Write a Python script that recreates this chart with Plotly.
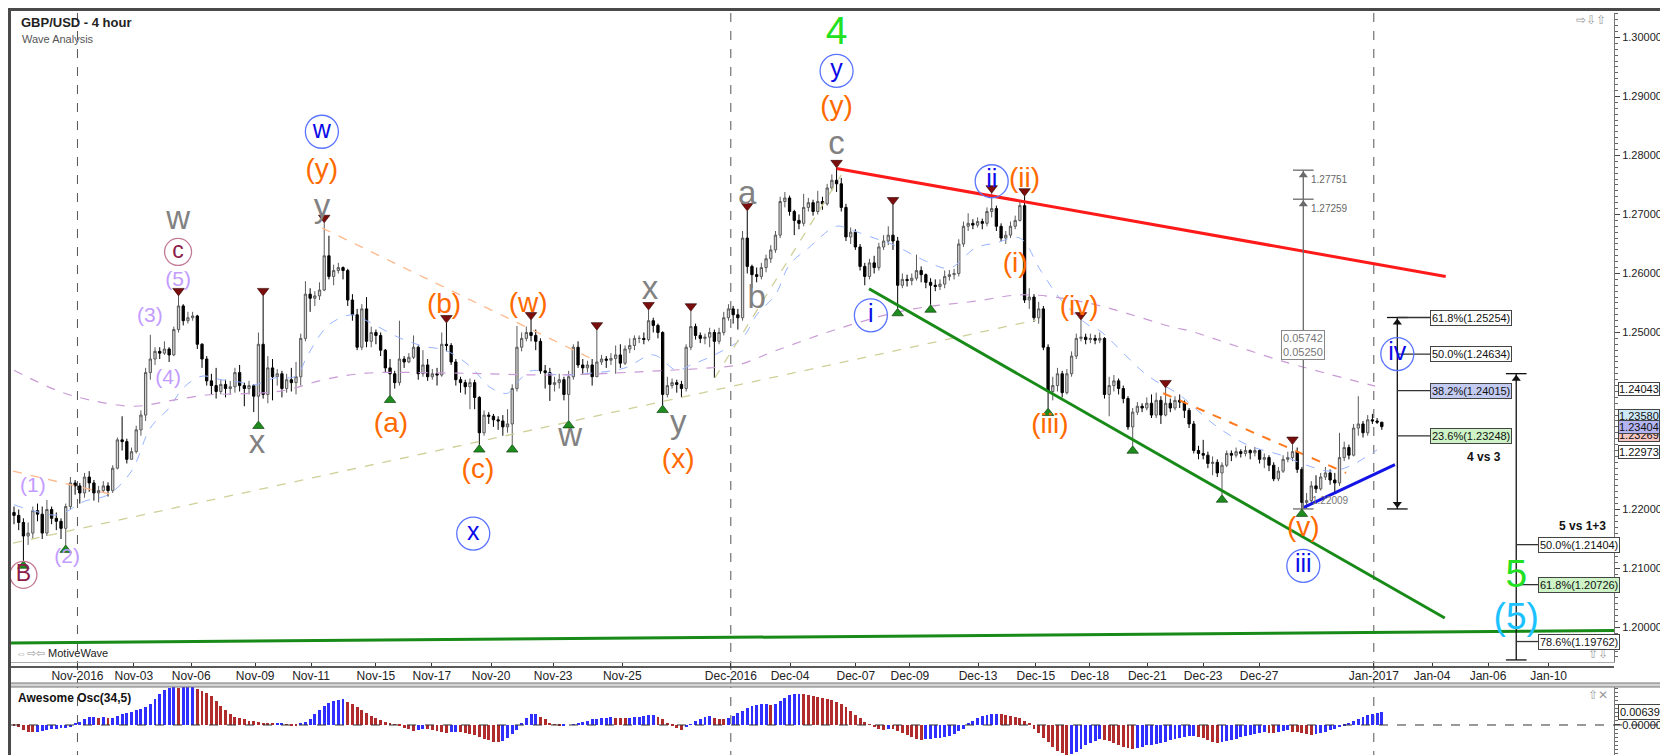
import plotly.graph_objects as go

# GBP/USD 4-hour bars, Nov 1 2016 -> Jan 2 2017
first_open = 1.2195
close = [
    1.2190, 1.2178, 1.2155, 1.2160, 1.2198, 1.2192, 1.2160, 1.2200, 1.2185, 1.2180,
    1.2168, 1.2205, 1.2245, 1.2240, 1.2228, 1.2255, 1.2245, 1.2228, 1.2232, 1.2240,
    1.2232, 1.2270, 1.2318, 1.2315, 1.2285, 1.2298, 1.2335, 1.2360, 1.2432, 1.2455,
    1.2468, 1.2465, 1.2472, 1.2462, 1.2505, 1.2545, 1.2520, 1.2525, 1.2528, 1.2480,
    1.2455, 1.2418, 1.2410, 1.2400, 1.2412, 1.2405, 1.2408, 1.2432, 1.2410, 1.2405,
    1.2410, 1.2392, 1.2480, 1.2395, 1.2440, 1.2425, 1.2430, 1.2405, 1.2420, 1.2415,
    1.2425, 1.2490, 1.2565, 1.2558, 1.2562, 1.2572, 1.2630, 1.2595, 1.2605, 1.2610,
    1.2605, 1.2555, 1.2530, 1.2475, 1.2540, 1.2485, 1.2500, 1.2495, 1.2470, 1.2440,
    1.2430, 1.2415, 1.2455, 1.2450, 1.2458, 1.2475, 1.2430, 1.2445, 1.2425, 1.2430,
    1.2428, 1.2480, 1.2478, 1.2450, 1.2420, 1.2415, 1.2408, 1.2415, 1.2390, 1.2330,
    1.2360, 1.2358, 1.2352, 1.2350, 1.2340, 1.2345, 1.2405, 1.2475, 1.2490, 1.2500,
    1.2495, 1.2485, 1.2435, 1.2432, 1.2412, 1.2415, 1.2420, 1.2395, 1.2425, 1.2475,
    1.2445, 1.2440, 1.2445, 1.2425, 1.2450, 1.2455, 1.2453, 1.2456, 1.2462, 1.2448,
    1.2472, 1.2478, 1.2490, 1.2490, 1.2488, 1.2520, 1.2512, 1.2500, 1.2395, 1.2410,
    1.2415, 1.2412, 1.2405, 1.2475, 1.2510, 1.2495, 1.2490, 1.2492, 1.2500, 1.2485,
    1.2500, 1.2525, 1.2540, 1.2530, 1.2525, 1.2660, 1.2612, 1.2598, 1.2595, 1.2610,
    1.2625, 1.2640, 1.2665, 1.2722, 1.2728, 1.2705, 1.2690, 1.2685, 1.2712, 1.2720,
    1.2705, 1.2722, 1.2718, 1.2745, 1.2758, 1.2752, 1.2712, 1.2662, 1.2670, 1.2645,
    1.2612, 1.2595, 1.2618, 1.2610, 1.2645, 1.2655, 1.2665, 1.2655, 1.2580, 1.2590,
    1.2588, 1.2592, 1.2605, 1.2598, 1.2585, 1.2580, 1.2578, 1.2582, 1.2595, 1.2598,
    1.2600, 1.2650, 1.2680, 1.2685, 1.2682, 1.2688, 1.2685, 1.2705, 1.2710, 1.2680,
    1.2660, 1.2665, 1.2680, 1.2690, 1.2715, 1.2555, 1.2560, 1.2525, 1.2540, 1.2475,
    1.2400, 1.2410, 1.2430, 1.2398, 1.2430, 1.2460, 1.2490, 1.2492, 1.2488, 1.2490,
    1.2487, 1.2490, 1.2395, 1.2410, 1.2418, 1.2405, 1.2388, 1.2340, 1.2365, 1.2375,
    1.2372, 1.2380, 1.2360, 1.2385, 1.2360, 1.2380, 1.2372, 1.2385, 1.2382, 1.2368,
    1.2345, 1.2300, 1.2295, 1.2292, 1.2278, 1.2280, 1.2262, 1.2275, 1.2295, 1.2292,
    1.2298, 1.2295, 1.2300, 1.2296, 1.2300, 1.2285, 1.2288, 1.2275, 1.2252, 1.2265,
    1.2285, 1.2288, 1.2298, 1.2268, 1.2212, 1.2215, 1.2240, 1.2235, 1.2255, 1.2262,
    1.2250, 1.2245, 1.2288, 1.2305, 1.2292, 1.2338, 1.2345, 1.2330, 1.2352, 1.2350,
    1.2348, 1.23404,
]
high = [
    1.2205, 1.2200, 1.2185, 1.2178, 1.2205, 1.2210, 1.2205, 1.2216, 1.2205, 1.2195,
    1.2185, 1.2210, 1.2255, 1.2250, 1.2245, 1.2262, 1.2265, 1.2250, 1.2240, 1.2248,
    1.2246, 1.2275, 1.2322, 1.2358, 1.2320, 1.2305, 1.2342, 1.2368, 1.2440, 1.2496,
    1.2475, 1.2475, 1.2485, 1.2475, 1.2510, 1.2562, 1.2548, 1.2535, 1.2535, 1.2530,
    1.2482, 1.2460, 1.2430, 1.2440, 1.2420, 1.2420, 1.2418, 1.2440, 1.2445, 1.2415,
    1.2418, 1.2412, 1.2500, 1.2562, 1.2460, 1.2455, 1.2438, 1.2435, 1.2430, 1.2440,
    1.2450, 1.2498, 1.2587, 1.2575, 1.2570, 1.2585, 1.2686, 1.2664, 1.2615, 1.2618,
    1.2612, 1.2608, 1.2565, 1.2540, 1.2548, 1.2560, 1.2510, 1.2505, 1.2500, 1.2472,
    1.2455, 1.2435, 1.2520, 1.2460, 1.2465, 1.2495, 1.2478, 1.2470, 1.2455, 1.2438,
    1.2440, 1.2500, 1.2516, 1.2482, 1.2455, 1.2425, 1.2420, 1.2422, 1.2420, 1.2392,
    1.2368, 1.2365, 1.2362, 1.2358, 1.2360, 1.2370, 1.2412, 1.2511, 1.2500, 1.2510,
    1.2521, 1.2505, 1.2490, 1.2445, 1.2440, 1.2425, 1.2430, 1.2425, 1.2435, 1.2480,
    1.2485, 1.2455, 1.2452, 1.2455, 1.2504, 1.2462, 1.2460, 1.2465, 1.2478, 1.2480,
    1.2478, 1.2490, 1.2495, 1.2495, 1.2500, 1.2538, 1.2525, 1.2515, 1.2502, 1.2425,
    1.2422, 1.2420, 1.2418, 1.2480, 1.2536, 1.2515, 1.2500, 1.2498, 1.2508, 1.2505,
    1.2508, 1.2535, 1.2548, 1.2545, 1.2540, 1.2672, 1.2706, 1.2615, 1.2610, 1.2618,
    1.2632, 1.2648, 1.2672, 1.2730, 1.2738, 1.2732, 1.2708, 1.2700, 1.2735, 1.2728,
    1.2725, 1.2740, 1.2730, 1.2752, 1.2768, 1.2779, 1.2762, 1.2718, 1.2678, 1.2675,
    1.2650, 1.2618, 1.2625, 1.2630, 1.2652, 1.2665, 1.2680, 1.2716, 1.2662, 1.2600,
    1.2598, 1.2600, 1.2632, 1.2612, 1.2600, 1.2592, 1.2590, 1.2590, 1.2605, 1.2606,
    1.2608, 1.2658, 1.2688, 1.2702, 1.2692, 1.2695, 1.2693, 1.2712, 1.2736, 1.2715,
    1.2685, 1.2672, 1.2688, 1.2698, 1.2722, 1.2731, 1.2575, 1.2565, 1.2552, 1.2545,
    1.2480, 1.2425, 1.2440, 1.2435, 1.2438, 1.2468, 1.2498, 1.2521, 1.2498, 1.2498,
    1.2496, 1.2500, 1.2492, 1.2425, 1.2428, 1.2422, 1.2410, 1.2392, 1.2372, 1.2382,
    1.2380, 1.2390, 1.2395, 1.2398, 1.2392, 1.2406, 1.2388, 1.2392, 1.2395, 1.2385,
    1.2372, 1.2350, 1.2308, 1.2318, 1.2298, 1.2290, 1.2285, 1.2280, 1.2300, 1.2300,
    1.2305, 1.2302, 1.2308, 1.2302, 1.2306, 1.2302, 1.2295, 1.2292, 1.2280, 1.2272,
    1.2292, 1.2298, 1.2310, 1.2305, 1.2272, 1.2228, 1.2248, 1.2258, 1.2262, 1.2272,
    1.2268, 1.2262, 1.2330, 1.2315, 1.2310, 1.2345, 1.2392, 1.2350, 1.2360, 1.2362,
    1.2355, 1.2345,
]
low = [
    1.2175, 1.2165, 1.2113, 1.2140, 1.2150, 1.2180, 1.2150, 1.2155, 1.2175, 1.2165,
    1.2150, 1.2140, 1.2200, 1.2225, 1.2210, 1.2220, 1.2230, 1.2215, 1.2212, 1.2228,
    1.2222, 1.2228, 1.2268, 1.2300, 1.2278, 1.2285, 1.2295, 1.2325, 1.2350, 1.2420,
    1.2445, 1.2455, 1.2462, 1.2450, 1.2460, 1.2500, 1.2512, 1.2515, 1.2520, 1.2472,
    1.2440, 1.2410, 1.2395, 1.2388, 1.2395, 1.2390, 1.2395, 1.2398, 1.2400, 1.2375,
    1.2395, 1.2365, 1.2350, 1.2388, 1.2380, 1.2385, 1.2410, 1.2390, 1.2398, 1.2400,
    1.2395, 1.2410, 1.2485, 1.2535, 1.2545, 1.2555, 1.2570, 1.2590, 1.2580, 1.2600,
    1.2590, 1.2545, 1.2520, 1.2470, 1.2470, 1.2475, 1.2475, 1.2480, 1.2460, 1.2432,
    1.2394, 1.2405, 1.2410, 1.2440, 1.2448, 1.2455, 1.2420, 1.2425, 1.2418, 1.2420,
    1.2410, 1.2425, 1.2468, 1.2445, 1.2410, 1.2398, 1.2395, 1.2370, 1.2370, 1.2310,
    1.2325, 1.2345, 1.2340, 1.2335, 1.2325, 1.2330, 1.2310, 1.2400, 1.2468, 1.2485,
    1.2485, 1.2470, 1.2430, 1.2405, 1.2384, 1.2400, 1.2405, 1.2385, 1.2351, 1.2420,
    1.2440, 1.2430, 1.2432, 1.2410, 1.2425, 1.2445, 1.2440, 1.2445, 1.2430, 1.2440,
    1.2445, 1.2465, 1.2470, 1.2482, 1.2480, 1.2485, 1.2500, 1.2490, 1.2377, 1.2390,
    1.2405, 1.2398, 1.2390, 1.2400, 1.2470, 1.2488, 1.2482, 1.2480, 1.2475, 1.2423,
    1.2480, 1.2495, 1.2520, 1.2515, 1.2505, 1.2520, 1.2600, 1.2575, 1.2585, 1.2590,
    1.2602, 1.2618, 1.2635, 1.2660, 1.2712, 1.2698, 1.2665, 1.2675, 1.2680, 1.2705,
    1.2698, 1.2700, 1.2708, 1.2715, 1.2740, 1.2738, 1.2705, 1.2655, 1.2650, 1.2640,
    1.2605, 1.2580, 1.2590, 1.2600, 1.2605, 1.2640, 1.2648, 1.2640, 1.2541, 1.2575,
    1.2578, 1.2580, 1.2588, 1.2585, 1.2575, 1.2547, 1.2570, 1.2572, 1.2575, 1.2588,
    1.2590, 1.2595, 1.2645, 1.2672, 1.2675, 1.2678, 1.2675, 1.2680, 1.2695, 1.2672,
    1.2655, 1.2650, 1.2660, 1.2675, 1.2688, 1.2550, 1.2540, 1.2518, 1.2515, 1.2470,
    1.2372, 1.2385, 1.2400, 1.2390, 1.2395, 1.2425, 1.2455, 1.2485, 1.2480, 1.2482,
    1.2480, 1.2482, 1.2388, 1.2358, 1.2400, 1.2395, 1.2380, 1.2335, 1.2308, 1.2360,
    1.2365, 1.2368, 1.2355, 1.2355, 1.2345, 1.2358, 1.2365, 1.2368, 1.2372, 1.2355,
    1.2338, 1.2295, 1.2285, 1.2285, 1.2270, 1.2258, 1.2255, 1.2225, 1.2272, 1.2282,
    1.2288, 1.2288, 1.2290, 1.2285, 1.2290, 1.2278, 1.2270, 1.2265, 1.2248, 1.2248,
    1.2262, 1.2280, 1.2282, 1.2262, 1.2201, 1.2201, 1.2210, 1.2228, 1.2232, 1.2250,
    1.2242, 1.2228, 1.2240, 1.2282, 1.2285, 1.2290, 1.2325, 1.2322, 1.2325, 1.2345,
    1.2345, 1.2335,
]
# Awesome Oscillator (34,5), one value per bar
ao = [
    -0.0003, -0.0008, -0.0025, -0.0033, -0.0034, -0.0032, -0.0028, -0.0025, -0.0022, -0.0018,
    -0.0015, -0.0013, -0.0010, 0.0008, 0.0015, 0.0028, 0.0040, 0.0041, 0.0036, 0.0037,
    0.0033, 0.0036, 0.0045, 0.0052, 0.0058, 0.0065, 0.0072, 0.0080, 0.0088, 0.0105,
    0.0128, 0.0150, 0.0170, 0.0180, 0.0185, 0.0183, 0.0185, 0.0186, 0.0187, 0.0178,
    0.0168, 0.0155, 0.0140, 0.0118, 0.0095, 0.0072, 0.0052, 0.0040, 0.0033, 0.0028,
    0.0022, 0.0018, 0.0014, 0.0008, 0.0006, 0.0005, 0.0006, 0.0008, 0.0002, -0.0003,
    -0.0005, 0.0005, 0.0015, 0.0030, 0.0052, 0.0075, 0.0095, 0.0108, 0.0118, 0.0124,
    0.0126, 0.0115, 0.0102, 0.0088, 0.0072, 0.0058, 0.0045, 0.0035, 0.0025, 0.0016,
    0.0008, 0.0002, -0.0006, -0.0014, -0.0022, -0.0028, -0.0024, -0.0020, -0.0022, -0.0026,
    -0.0030, -0.0036, -0.0038, -0.0036, -0.0035, -0.0036, -0.0038, -0.0042, -0.0050, -0.0060,
    -0.0068, -0.0076, -0.0082, -0.0086, -0.0080, -0.0065, -0.0045, -0.0025, 0.0010, 0.0032,
    0.0052, 0.0053, 0.0040, 0.0028, 0.0012, 0.0002, -0.0003, -0.0002, 0.0000, 0.0004,
    0.0010, 0.0016, 0.0022, 0.0028, 0.0030, 0.0034, 0.0036, 0.0038, 0.0036, 0.0035,
    0.0034, 0.0036, 0.0037, 0.0038, 0.0042, 0.0048, 0.0050, 0.0040, 0.0028, 0.0012,
    -0.0004, -0.0016, -0.0026, -0.0010, 0.0002, 0.0018, 0.0030, 0.0038, 0.0044, 0.0036,
    0.0030, 0.0028, 0.0034, 0.0042, 0.0058, 0.0070, 0.0082, 0.0092, 0.0098, 0.0102,
    0.0104, 0.0100, 0.0104, 0.0118, 0.0135, 0.0148, 0.0152, 0.0153, 0.0150, 0.0146,
    0.0142, 0.0138, 0.0134, 0.0128, 0.0122, 0.0114, 0.0104, 0.0088, 0.0070, 0.0050,
    0.0032, 0.0015, 0.0003, -0.0010, -0.0018, -0.0026, -0.0018, -0.0022, -0.0028, -0.0040,
    -0.0050, -0.0060, -0.0068, -0.0072, -0.0070, -0.0068, -0.0066, -0.0064, -0.0060, -0.0052,
    -0.0042, -0.0030, -0.0018, 0.0008, 0.0018, 0.0032, 0.0042, 0.0048, 0.0052, 0.0054,
    0.0052, 0.0050, 0.0046, 0.0040, 0.0033, 0.0020, 0.0008, -0.0020, -0.0040, -0.0062,
    -0.0085, -0.0108, -0.0126, -0.0140, -0.0148, -0.0142, -0.0132, -0.0118, -0.0100, -0.0088,
    -0.0078, -0.0068, -0.0072, -0.0080, -0.0090, -0.0098, -0.0106, -0.0114, -0.0116, -0.0112,
    -0.0108, -0.0100, -0.0096, -0.0092, -0.0088, -0.0082, -0.0076, -0.0070, -0.0066, -0.0060,
    -0.0056, -0.0052, -0.0058, -0.0066, -0.0074, -0.0082, -0.0090, -0.0086, -0.0080, -0.0074,
    -0.0068, -0.0060, -0.0054, -0.0048, -0.0044, -0.0040, -0.0036, -0.0038, -0.0040, -0.0034,
    -0.0030, -0.0026, -0.0032, -0.0036, -0.0040, -0.0045, -0.0050, -0.0046, -0.0040, -0.0034,
    -0.0026, -0.0018, -0.0010, -0.0004, 0.0008, 0.0018, 0.0030, 0.0040, 0.0048, 0.0056,
    0.0060, 0.00639,
]

# moving averages, sampled along the chart (bar index, price)
fast_ma_bar = [0, 4.5, 9.4, 15, 20, 25, 29, 33, 36, 40, 44, 48, 51, 55.5, 60, 62.5, 67, 72, 75, 82,
               87, 92, 97, 101.5, 105, 106.6, 110, 115.7, 122.8, 130, 136, 141, 144, 149, 155, 158,
               162, 165, 169, 175, 178, 183, 187, 194, 199, 204.5, 209, 214, 218.5, 223, 228.5, 231,
               241, 248, 255.5, 262.5, 269.6, 275, 280, 284, 290]
fast_ma = [1.2208, 1.2197, 1.2191, 1.2214, 1.2225, 1.2265, 1.2338, 1.2372, 1.2406, 1.2426,
           1.2420, 1.2416, 1.2411, 1.2423, 1.2426, 1.2462, 1.2513, 1.2530, 1.2520, 1.2491,
           1.2477, 1.2469, 1.2443, 1.2406, 1.2397, 1.2411, 1.2435, 1.2428, 1.2431, 1.2440,
           1.2462, 1.2436, 1.2445, 1.2462, 1.2491, 1.2530, 1.2564, 1.2615, 1.2643, 1.2680,
           1.2674, 1.2660, 1.2649, 1.2621, 1.2609, 1.2643, 1.2652, 1.2660, 1.2604, 1.2553,
           1.2513, 1.2503, 1.2428, 1.2394, 1.2343, 1.2309, 1.2292, 1.2275, 1.2265, 1.2273,
           1.2301]
slow_ma_bar = [0, 9.4, 16.5, 25.7, 33, 41, 48, 57, 66, 75, 94.5, 115.7, 137, 148, 154, 162, 176,
               190, 204.5, 215, 228.5, 247, 250, 269.6, 289.6]
slow_ma = [1.2436, 1.2401, 1.2385, 1.2375, 1.2384, 1.2394, 1.2396, 1.2401, 1.2420, 1.2431,
           1.2431, 1.2428, 1.2435, 1.2440, 1.2445, 1.2469, 1.2508, 1.2538, 1.2553, 1.2564,
           1.2550, 1.2508, 1.2503, 1.2452, 1.2409]

tick_labels = ['Nov-2016', 'Nov-03', 'Nov-06', 'Nov-09', 'Nov-11', 'Nov-15', 'Nov-17', 'Nov-20',
               'Nov-23', 'Nov-25', 'Dec-2016', 'Dec-04', 'Dec-07', 'Dec-09', 'Dec-13', 'Dec-15',
               'Dec-18', 'Dec-21', 'Dec-23', 'Dec-27', 'Jan-2017', 'Jan-04', 'Jan-06', 'Jan-10']
tick_bars = [13.5, 25.5, 37.7, 51.3, 63.2, 77.0, 88.9, 101.5, 114.7, 129.4, 152.5, 165.1, 179.1,
             190.6, 205.1, 217.4, 228.9, 241.1, 253.0, 264.9, 289.3, 301.7, 313.6, 326.5]
month_bars = [13.5, 152.5, 289.3]

# swing markers
top_bars = [35, 53, 66, 92, 110, 124, 135, 144, 156, 175, 187, 208, 215, 227, 245, 272]
bottom_bars = [2, 11, 52, 80, 99, 106, 118, 138, 188, 195, 220, 238, 257, 274]

# wave labels: text, bar, pivot bar, pivot side, offset in px (up +), style
wave_labels = [
    ("B", 2, 2, "l", -14, "maroon_c"), ("(1)", 4, 4, "h", 20, "lav"), ("(2)", 11.3, 11, "l", -13, "lav"),
    ("(3)", 28.9, 29, "h", 18, "lav"), ("(4)", 32.8, 33, "l", -17, "lav"),
    ("(5)", 34.9, 35, "h", 15, "lav"), ("c", 34.9, 35, "h", 44, "maroon_c"), ("w", 34.9, 35, "h", 75, "gray"),
    ("x", 51.7, 52, "l", -24, "gray"),
    ("y", 65.5, 66, "h", 14, "gray"), ("(y)", 65.5, 66, "h", 52, "orange"), ("w", 65.5, 66, "h", 91, "blue_c"),
    ("(a)", 80.2, 80, "l", -30, "orange"), ("(b)", 91.5, 92, "h", 17, "orange"),
    ("(c)", 98.7, 99, "l", -26, "orange"), ("x", 97.7, 99, "l", -89, "blue_c"),
    ("(w)", 109.4, 110, "h", 15, "orange"), ("w", 118.3, 118, "l", -17, "gray"),
    ("x", 135.3, 135, "h", 19, "gray"), ("y", 141.3, 138, "l", -20, "gray"), ("(x)", 141.3, 138, "l", -56, "orange"),
    ("a", 156, 156, "h", 15, "gray"), ("b", 158, 157, "l", -12, "gray"),
    ("c", 175, 175, "h", 22, "gray"), ("(y)", 175, 175, "h", 60, "orange"), ("y", 175, 175, "h", 97, "blue_c"),
    ("4", 175, 175, "h", 134, "green"),
    ("i", 182.3, 181, "l", -30, "blue_c"), ("ii", 208, 208, "h", 12, "blue_c"),
    ("(ii)", 215, 215, "h", 16, "orange"), ("(i)", 213, 215, "l", 38, "orange"),
    ("(iii)", 220.4, 220, "l", -18, "orange"), ("(iv)", 226.6, 227, "h", 12, "orange"),
    ("(v)", 274.3, 274, "l", -20, "orange"), ("iii", 274.3, 274, "l", -57, "blue_c"),
]

# trend lines (bar index, price)
red_line = ([175.0, 304.6], [1.2778, 1.2595])
green_channel = ([181.9, 304.4], [1.2574, 1.2016])
green_base = ([-1.3, 340.4], [1.19737, 1.19949])
blue_line = ([274.3, 293.8], [1.2203, 1.2276])
orange_dash = ([244.5, 283.4], [1.2397, 1.2262])
peach_dash = ([65.6, 123.0], [1.2677, 1.2455])
peach_dash_left = ([-0.2, 22.1], [1.2265, 1.2223])
tan_dash = ([-0.2, 217.4], [1.2143, 1.2521])
tan_dash_bc = ([149.1, 176.0], [1.2423, 1.2767])

# measuring tools
measure_bar, measure_caps, measure_bottom = 274.3, [1.27751, 1.27259], 1.22009
fib1_bar, fib1_top, fib1_bottom = 294.3, 1.25254, 1.22009
fib1_levels = [(61.8, 1.25254, 'white'), (50.0, 1.24634, 'white'),
               (38.2, 1.24015, '#c3cbf2'), (23.6, 1.23248, '#cdf3c6')]
fib2_bar, fib2_top, fib2_bottom = 319.6, 1.24302, 1.1945
fib2_levels = [(50.0, 1.21404, 'white'), (61.8, 1.20726, '#cdf3c6'), (78.6, 1.19762, 'white')]

axis_marks = [(1.24043, 'white'), (1.22973, 'white'), (1.23580, '#cfe8f8'),
              (1.23269, '#f5c6c2'), (1.23404, '#b4b4f2')]

# ---- geometry
W, H, ML, MR = 1668, 755, 3, 62
Y_LO, Y_HI = 1.19415, 1.30415
X_LO, X_HI = -0.64, 340.4
MAIN_DOM = [(H - 654) / H, (H - 5) / H]
OSC_DOM = [(H - 752) / H, (H - 679) / H]
OSC_RANGE = [-0.0172, 0.01866]
ppp = (Y_HI - Y_LO) / (H * (MAIN_DOM[1] - MAIN_DOM[0]))


def px_x(px):
    return (px - ML) / (W - ML - MR)


def px_y(py):
    return (H - py) / H


opens = [first_open] + close[:-1]
high = [max(h, o, c) for h, o, c in zip(high, opens, close)]
low = [min(l, o, c) for l, o, c in zip(low, opens, close)]
bars = list(range(len(close)))

fig = go.Figure()
fig.add_trace(go.Candlestick(
    x=bars, open=opens, high=high, low=low, close=close,
    increasing=dict(line=dict(color='#5a5a5a', width=1), fillcolor='#d2d2d2'),
    decreasing=dict(line=dict(color='#000000', width=1), fillcolor='#000000'),
    whiskerwidth=0, hoverinfo='skip', xaxis='x', yaxis='y'))


def line(xy, color, width, dash=None, shape='linear'):
    fig.add_trace(go.Scatter(x=xy[0], y=xy[1], mode='lines', hoverinfo='skip',
                             line=dict(color=color, width=width, dash=dash, shape=shape),
                             xaxis='x', yaxis='y'))


line((fast_ma_bar, fast_ma), '#97b4ff', 1, 'dash', 'spline')
line((slow_ma_bar, slow_ma), '#c99ad6', 1.2, 'dash', 'spline')
line(tan_dash, '#cfcf98', 1.3, 'dash')
line(tan_dash_bc, '#cfcf98', 1.3, 'dash')
line(peach_dash, '#ffb88a', 1.3, 'dash')
line(peach_dash_left, '#ffb88a', 1.3, 'dash')
line(orange_dash, '#ff7a1f', 2, 'dash')
line(red_line, '#ff1a1a', 3)
line(green_channel, '#178a17', 3)
line(green_base, '#178a17', 3)
line(blue_line, '#1414e6', 3)


# measuring / fib tools
def tool(bar, top, bottom, caps, color):
    xs, ys = [bar, bar, None], [top, bottom, None]
    for c in caps:
        xs += [bar - 2.2, bar + 2.2, None]
        ys += [c, c, None]
    fig.add_trace(go.Scatter(x=xs, y=ys, mode='lines', hoverinfo='skip',
                             line=dict(color=color, width=1.3), xaxis='x', yaxis='y'))


tool(measure_bar, measure_caps[0], measure_bottom, measure_caps + [measure_bottom], '#6a6a6a')
tool(fib1_bar, fib1_top, fib1_bottom, [fib1_top, fib1_bottom], '#111111')
tool(fib2_bar, fib2_top, fib2_bottom, [fib2_top, fib2_bottom], '#111111')
fig.add_trace(go.Scatter(
    x=[measure_bar, measure_bar, fib1_bar, fib2_bar],
    y=[c - 5 * ppp for c in measure_caps] + [fib1_top - 5 * ppp, fib2_top - 5 * ppp],
    mode='markers', hoverinfo='skip',
    marker=dict(symbol='triangle-up', size=8, color=['#6a6a6a', '#6a6a6a', '#111', '#111']),
    xaxis='x', yaxis='y'))
fig.add_trace(go.Scatter(
    x=[fib1_bar], y=[fib1_bottom + 5 * ppp], mode='markers', hoverinfo='skip',
    marker=dict(symbol='triangle-down', size=8, color='#111'), xaxis='x', yaxis='y'))
for levels, bar, span in ((fib1_levels, fib1_bar, 7), (fib2_levels, fib2_bar, 4.7)):
    xs, ys = [], []
    for _, p, _ in levels:
        xs += [bar, bar + span, None]
        ys += [p, p, None]
    fig.add_trace(go.Scatter(x=xs, y=ys, mode='lines', hoverinfo='skip',
                             line=dict(color='#333', width=1.3), xaxis='x', yaxis='y'))

# swing markers
fig.add_trace(go.Scatter(
    x=top_bars, y=[high[i] + 5 * ppp for i in top_bars], mode='markers', hoverinfo='skip',
    marker=dict(symbol='triangle-down', size=10, color='#7c0d0d', line=dict(color='#2a0000', width=0.6)),
    xaxis='x', yaxis='y'))
fig.add_trace(go.Scatter(
    x=bottom_bars, y=[low[i] - 5 * ppp for i in bottom_bars], mode='markers', hoverinfo='skip',
    marker=dict(symbol='triangle-up', size=10, color='#1e8c1e', line=dict(color='#003000', width=0.6)),
    xaxis='x', yaxis='y'))

# wave labels
styles = {
    'gray': dict(color='#828282', size=33),
    'orange': dict(color='#ff6a00', size=28),
    'lav': dict(color='#c39cff', size=21),
    'blue_c': dict(color='#0b0be8', size=25, ring='#5a74ff', ring_size=33),
    'maroon_c': dict(color='#8c1c4a', size=23, ring='#c27a96', ring_size=27),
    'green': dict(color='#22e022', size=39),
    'cyan': dict(color='#1cc2ff', size=37),
}
tool_labels = [("iv", fib1_bar, 1.24634, 0, 'blue_c'), ("5", fib2_bar, 1.20726, 7, 'green'),
               ("(5)", fib2_bar, 1.20726, -35, 'cyan')]
for name, st in styles.items():
    xs, ys, ts = [], [], []
    for t, xb, pb, side, off, s in wave_labels:
        if s == name:
            base = high[pb] if side == 'h' else low[pb]
            xs.append(xb)
            ys.append(base + off * ppp)
            ts.append(t)
    for t, xb, p, off, s in tool_labels:
        if s == name:
            xs.append(xb)
            ys.append(p + off * ppp)
            ts.append(t)
    if not xs:
        continue
    if 'ring' in st:
        fig.add_trace(go.Scatter(x=xs, y=ys, mode='markers', hoverinfo='skip',
                                 marker=dict(symbol='circle-open', size=st['ring_size'], color=st['ring'],
                                             line=dict(width=1.3)),
                                 xaxis='x', yaxis='y'))
    fig.add_trace(go.Scatter(x=xs, y=ys, mode='text', text=ts, textposition='middle center',
                             hoverinfo='skip', cliponaxis=False,
                             textfont=dict(size=st['size'], color=st['color'], family='Liberation Sans, Arial'),
                             xaxis='x', yaxis='y'))

# oscillator
ao_colors = ['#b02c2c']
for i in range(1, len(ao)):
    ao_colors.append('#2f2fff' if ao[i] > ao[i - 1] else '#b02c2c')
fig.add_trace(go.Bar(x=bars, y=ao, width=0.62, marker=dict(color=ao_colors, line=dict(width=0)),
                     hoverinfo='skip', xaxis='x2', yaxis='y2'))

annotations = [
    dict(text='<b>GBP/USD - 4 hour</b>', x=px_x(11), y=px_y(14), xref='paper', yref='paper',
         xanchor='left', yanchor='middle', showarrow=False, font=dict(size=13, color='#222')),
    dict(text='Wave Analysis', x=px_x(12), y=px_y(31), xref='paper', yref='paper',
         xanchor='left', yanchor='middle', showarrow=False, font=dict(size=11, color='#555')),
    dict(text='<span style="color:#999">⇔⇨⇦</span> MotiveWave', x=px_x(6), y=px_y(645), xref='paper',
         yref='paper', xanchor='left', yanchor='middle', showarrow=False, font=dict(size=11, color='#222')),
    dict(text='⇨⇩⇧', x=px_x(1600), y=px_y(12), xref='paper', yref='paper', xanchor='right',
         yanchor='middle', showarrow=False, font=dict(size=12, color='#999')),
    dict(text='⇧⇩', x=px_x(1602), y=px_y(646), xref='paper', yref='paper', xanchor='right',
         yanchor='middle', showarrow=False, font=dict(size=12, color='#999')),
    dict(text='⇧✕', x=px_x(1602), y=px_y(687), xref='paper', yref='paper', xanchor='right',
         yanchor='middle', showarrow=False, font=dict(size=12, color='#999')),
    dict(text='<b>Awesome Osc(34,5)</b>', x=px_x(8), y=px_y(690), xref='paper', yref='paper',
         xanchor='left', yanchor='middle', showarrow=False, font=dict(size=12, color='#111')),
    dict(text='1.27751', x=measure_bar + 1.2, y=measure_caps[0], xref='x', yref='y', xanchor='left',
         yanchor='top', yshift=-2, showarrow=False, font=dict(size=10, color='#666')),
    dict(text='1.27259', x=measure_bar + 1.2, y=measure_caps[1], xref='x', yref='y', xanchor='left',
         yanchor='top', yshift=-2, showarrow=False, font=dict(size=10, color='#666')),
    dict(text='0.05742<br>0.05250', x=measure_bar, y=1.2479, xref='x', yref='y', showarrow=False,
         bgcolor='white', bordercolor='#888', borderwidth=1, borderpad=1,
         font=dict(size=11, color='#777')),
    dict(text='1.22009', x=measure_bar + 1.5, y=measure_bottom + 8 * ppp, xref='x', yref='y',
         xanchor='left', showarrow=False, font=dict(size=10, color='#777')),
    dict(text='<b>4 vs 3</b>', x=fib1_bar + 22.5, y=fib1_levels[3][1], yshift=-21, xref='x', yref='y',
         xanchor='right', showarrow=False, font=dict(size=12, color='#111')),
    dict(text='<b>5 vs 1+3</b>', x=fib2_bar + 19.5, y=fib2_levels[0][1], yshift=19, xref='x', yref='y',
         xanchor='right', showarrow=False, font=dict(size=12, color='#111')),
    dict(text='0.00639', x=1, y=ao[-1], xref='paper', yref='y2', xanchor='left', xshift=4,
         showarrow=False, bgcolor='white', bordercolor='#444', borderwidth=1, borderpad=1,
         font=dict(size=11, color='#111')),
]
for pct, p, bg in fib1_levels:
    annotations.append(dict(text=f'{pct:.1f}%({p:.5f})', x=fib1_bar + 7, y=p, xref='x', yref='y',
                            xanchor='left', showarrow=False, bgcolor=bg, bordercolor='#444',
                            borderwidth=1, borderpad=1, font=dict(size=11, color='#111')))
for pct, p, bg in fib2_levels:
    annotations.append(dict(text=f'{pct:.1f}%({p:.5f})', x=fib2_bar + 4.7, y=p, xref='x', yref='y',
                            xanchor='left', showarrow=False, bgcolor=bg, bordercolor='#444',
                            borderwidth=1, borderpad=1, font=dict(size=11, color='#111')))
for p, bg in axis_marks:
    annotations.append(dict(text=f'{p:.5f}', x=1, y=p, xref='paper', yref='y', xanchor='left',
                            xshift=4, showarrow=False, bgcolor=bg, bordercolor='#444', borderwidth=1,
                            borderpad=0, font=dict(size=11, color='#111')))

shapes = []
for b in month_bars:
    shapes.append(dict(type='line', xref='x', yref='paper', x0=b, x1=b, y0=OSC_DOM[0], y1=MAIN_DOM[1],
                       line=dict(color='#555', width=1, dash='dash'), layer='below'))
shapes += [
    dict(type='line', xref='paper', yref='y2', x0=0, x1=1 + 60 / (W - ML - MR), y0=0, y1=0,
         line=dict(color='#333', width=1, dash='dash')),
    dict(type='line', xref='paper', yref='paper', x0=0, x1=1, y0=px_y(659), y1=px_y(659),
         line=dict(color='#222', width=1.5)),
    dict(type='rect', xref='paper', yref='paper', x0=-ML / (W - ML - MR), x1=1 + MR / (W - ML - MR),
         y0=px_y(679), y1=px_y(675), fillcolor='#d4d4d4', line=dict(color='#777', width=1)),
    dict(type='rect', xref='paper', yref='paper', x0=-ML / (W - ML - MR), x1=0, y0=0, y1=1,
         fillcolor='#4a4a4a', line=dict(width=0)),
    dict(type='rect', xref='paper', yref='paper', x0=-ML / (W - ML - MR), x1=1 + MR / (W - ML - MR),
         y0=px_y(3), y1=1, fillcolor='#4a4a4a', line=dict(width=0)),
    dict(type='rect', xref='paper', yref='paper', x0=-ML / (W - ML - MR), x1=1 + MR / (W - ML - MR),
         y0=0, y1=px_y(752), fillcolor='#3a3a3a', line=dict(width=0)),
]

fig.update_layout(
    width=W, height=H, margin=dict(l=ML, r=MR, t=0, b=0),
    paper_bgcolor='white', plot_bgcolor='white', showlegend=False,
    font=dict(family='Liberation Sans, Arial', color='#222'),
    xaxis=dict(domain=[0, 1], range=[X_LO, X_HI], anchor='y', tickvals=tick_bars, ticktext=tick_labels,
               ticks='outside', ticklen=3, tickcolor='#333', showgrid=False, zeroline=False,
               showline=True, linecolor='#aaa', tickfont=dict(size=12, color='#222'),
               rangeslider=dict(visible=False)),
    yaxis=dict(domain=MAIN_DOM, range=[Y_LO, Y_HI], side='right', anchor='x',
               tickvals=[1.20, 1.21, 1.22, 1.25, 1.26, 1.27, 1.28, 1.29, 1.30], tickformat='.5f',
               ticks='outside', ticklen=5, tickcolor='#444', showgrid=False, zeroline=False,
               showline=True, linecolor='#777', tickfont=dict(size=11, color='#222'),
               minor=dict(dtick=0.001, ticks='outside', ticklen=3, tickcolor='#666', showgrid=False)),
    xaxis2=dict(domain=[0, 1], range=[X_LO, X_HI], anchor='y2', showticklabels=False, showgrid=False,
                zeroline=False, showline=False),
    yaxis2=dict(domain=OSC_DOM, range=OSC_RANGE, side='right', anchor='x2', tickvals=[0],
                tickformat='.5f', ticks='outside', ticklen=5, tickcolor='#444', showgrid=False,
                zeroline=False, showline=True, linecolor='#777', tickfont=dict(size=11, color='#222'),
                minor=dict(dtick=0.002, ticks='outside', ticklen=3, tickcolor='#666', showgrid=False)),
    bargap=0, annotations=annotations, shapes=shapes,
)

fig.write_html("out.html")
